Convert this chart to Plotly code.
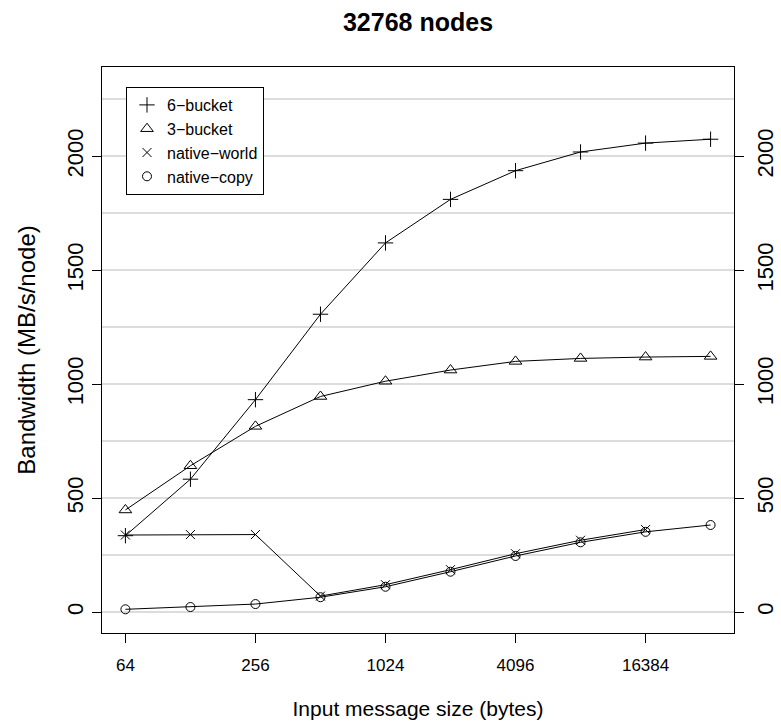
import numpy as np
import plotly.graph_objects as go

# ---- data ----
sizes = [64, 128, 256, 512, 1024, 2048, 4096, 8192, 16384, 32768]
six_bucket = [335, 583, 932, 1307, 1620, 1811, 1937, 2019, 2058, 2075]
three_bucket = [448, 642, 815, 946, 1013, 1062, 1100, 1113, 1119, 1122]
native_world_sizes = [64, 128, 256, 512, 1024, 2048, 4096, 8192, 16384]
native_world = [338, 340, 340, 70, 120, 186, 256, 315, 362]
native_copy = [12, 22, 35, 65, 111, 177, 246, 306, 352, 382]

x_tick_vals = [64, 256, 1024, 4096, 16384]
y_tick_vals = [0, 500, 1000, 1500, 2000]
y_limits = [0, 2300]

title_text = "<b>32768 nodes</b>"
x_title = "Input message size (bytes)"
y_title = "Bandwidth (MB/s/node)"

series = [
    ("6\u2212bucket", sizes, six_bucket, "cross-thin-open", 11),
    ("3\u2212bucket", sizes, three_bucket, "triangle-up-open", 11),
    ("native\u2212world", native_world_sizes, native_world, "x-thin-open", 9),
    ("native\u2212copy", sizes, native_copy, "circle-open", 9),
]

FONT = "Liberation Sans, Arial, Helvetica, sans-serif"

fig = go.Figure()
for name, xs, ys, sym, sz in series:
    fig.add_trace(go.Scatter(
        x=xs, y=ys, mode="lines+markers", showlegend=False,
        line=dict(color="black", width=1),
        marker=dict(symbol=sym, size=sz, color="black",
                    line=dict(color="black", width=1)),
        hoverinfo="skip",
    ))
# legend entries (symbol only, like R's legend with pch)
for name, xs, ys, sym, sz in series:
    fig.add_trace(go.Scatter(
        x=[None], y=[None], mode="markers", name=name,
        marker=dict(symbol=sym, size=sz, color="black",
                    line=dict(color="black", width=1)),
    ))
# invisible trace for the right-hand axis
fig.add_trace(go.Scatter(x=sizes, y=native_copy, yaxis="y2", mode="lines",
                         line=dict(width=0), opacity=0, showlegend=False,
                         hoverinfo="skip"))

# R style 4% axis expansion
lx0, lx1 = np.log10(sizes[0]), np.log10(sizes[-1])
px = 0.04 * (lx1 - lx0)
x_range = [lx0 - px, lx1 + px]
py = 0.04 * (y_limits[1] - y_limits[0])
y_range = [y_limits[0] - py, y_limits[1] + py]

grid = "#dcdcdc"
fig.update_layout(
    width=781, height=723,
    margin=dict(l=102, r=47, t=67, b=90, autoexpand=False),
    paper_bgcolor="white", plot_bgcolor="white",
    font=dict(family=FONT, color="black"),
    title=dict(text=title_text, x=0.5, xref="paper", y=1 - 22 / 723,
               yanchor="middle", font=dict(size=25, family=FONT)),
    xaxis=dict(
        type="log", range=x_range, tickvals=x_tick_vals,
        ticktext=[str(v) for v in x_tick_vals],
        ticks="outside", ticklen=9, tickcolor="black", tickwidth=1,
        tickfont=dict(size=17), ticklabelstandoff=8,
        showline=True, linecolor="black", linewidth=1, mirror=True,
        showgrid=False, zeroline=False, automargin=False,
        title=dict(text=x_title, font=dict(size=21), standoff=26),
    ),
    yaxis=dict(
        range=y_range, tickvals=y_tick_vals,
        ticks="outside", ticklen=9, tickcolor="black", tickwidth=1,
        tickfont=dict(size=22), tickangle=-90, ticklabelstandoff=0,
        showline=True, linecolor="black", linewidth=1, mirror=True,
        showgrid=True, gridcolor=grid, gridwidth=1.5,
        minor=dict(dtick=250, tick0=0, showgrid=True, gridcolor=grid,
                   gridwidth=1.5, ticks=""),
        zeroline=False, automargin=False,
        title=dict(text=y_title, font=dict(size=24), standoff=20),
    ),
    yaxis2=dict(
        range=y_range, tickvals=y_tick_vals, overlaying="y", side="right",
        ticks="outside", ticklen=9, tickcolor="black", tickwidth=1,
        tickfont=dict(size=22), tickangle=-90, ticklabelstandoff=3,
        showline=False, showgrid=False, zeroline=False, automargin=False,
    ),
    legend=dict(
        x=(126 - 102) / 632, y=(633 - 87) / 566, xanchor="left", yanchor="top",
        bgcolor="white", bordercolor="black", borderwidth=1,
        font=dict(size=16), tracegroupgap=0,
    ),
)

fig.write_html("out.html")
